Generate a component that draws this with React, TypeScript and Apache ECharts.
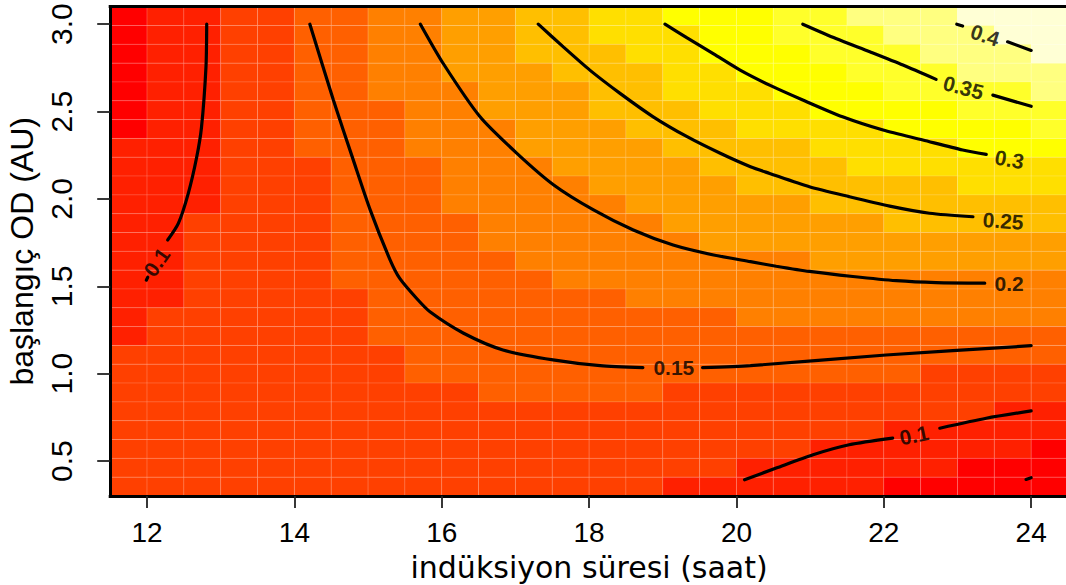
import React, { useEffect, useRef } from "react";
import * as echarts from "echarts";

// Cell centres of the image grid (x: induction time, y: starting OD)
const xCenters = [
  11.75, 12.25, 12.75, 13.25, 13.75, 14.25, 14.75, 15.25, 15.75, 16.25, 16.75, 17.25, 17.75,
  18.25, 18.75, 19.25, 19.75, 20.25, 20.75, 21.25, 21.75, 22.25, 22.75, 23.25, 23.75, 24.25,
];
// top row first
const yCenters = [
  3.0462, 2.9385, 2.8308, 2.7231, 2.6154, 2.5077, 2.4, 2.2923, 2.1846, 2.0769, 1.9692, 1.8615, 1.7538,
  1.6462, 1.5385, 1.4308, 1.3231, 1.2154, 1.1077, 1.0, 0.8923, 0.7846, 0.6769, 0.5692, 0.4615, 0.3538,
];
// colour class of each cell (heat.colors(12) index, hex digit), top row first
const levelRows = [
  "01122334455667788899aaabbb",
  "011223344556677788999aaabb",
  "0112233445566677888999aaab",
  "01122334455566677888999aaa",
  "0112233444555667778889999a",
  "01122333445556667778888999",
  "01122333444555666777788889",
  "11122333444555566667777888",
  "11122233344455556666777777",
  "11122233344445555666666777",
  "11122233344444555556666666",
  "11222233334444455555566666",
  "11222233334444445555555555",
  "11222233333444444445555555",
  "11222233333344444444444444",
  "11222223333333444444444444",
  "12222223333333333444444444",
  "12222223333333333333333333",
  "22222222333333333333333333",
  "22222222333333333333332222",
  "22222222223333322222222222",
  "22222222222222222222222211",
  "22222222222222222222211111",
  "22222222222222222221111110",
  "22222222222222222111111000",
  "22222222222222211111100000",
];
const heatColors = [
  "#FF0000", "#FF2000", "#FF4000", "#FF6000", "#FF8000", "#FF9F00",
  "#FFBF00", "#FFDF00", "#FFFF00", "#FFFF2A", "#FFFF80", "#FFFFD5",
];

// contour lines (segments broken where the labels sit)
const contour010Left = [
  [[12.81, 3.0], [12.8, 2.756], [12.74, 2.413], [12.675, 2.241], [12.56, 2.032], [12.425, 1.86], [12.28, 1.765]],
  [[12.01, 1.552], [11.99, 1.535]],
];
const contour015 = [
  [[14.21, 3.0], [14.53, 2.565], [14.8, 2.222], [15.03, 1.936], [15.3, 1.65], [15.43, 1.545], [15.66, 1.43],
   [15.84, 1.354], [16.29, 1.233], [16.83, 1.136], [17.51, 1.079], [18.15, 1.046], [18.73, 1.035]],
  [[19.54, 1.035], [20.19, 1.046], [22.03, 1.107], [24.0, 1.16]],
];
const contour020 = [
  [[15.71, 3.0], [16.02, 2.775], [16.52, 2.47], [17.02, 2.261], [17.52, 2.08], [18.06, 1.937], [18.6, 1.822],
   [19.14, 1.736], [19.69, 1.679], [20.19, 1.641], [20.54, 1.615], [20.99, 1.585], [21.58, 1.556],
   [22.17, 1.532], [22.71, 1.521], [23.37, 1.518]],
];
const contour025 = [
  [[17.31, 3.0], [17.65, 2.87], [18.01, 2.737], [18.42, 2.604], [18.87, 2.47], [19.33, 2.356], [19.78, 2.261],
   [20.19, 2.184], [20.45, 2.146], [20.99, 2.07], [21.53, 2.013], [22.08, 1.959], [22.62, 1.918], [23.21, 1.898]],
];
const contour030 = [
  [[19.03, 3.0], [19.33, 2.922], [19.69, 2.83], [20.05, 2.737], [20.45, 2.651], [20.9, 2.566], [21.44, 2.47],
   [21.99, 2.394], [22.53, 2.337], [23.07, 2.28], [23.39, 2.255]],
];
const contour035 = [
  [[20.9, 3.0], [21.35, 2.918], [21.81, 2.842], [22.26, 2.766], [22.71, 2.684]],
  [[23.48, 2.594], [24.0, 2.53]],
];
const contour040 = [
  [[22.99, 3.0], [23.07, 2.989]],
  [[23.68, 2.899], [24.0, 2.85]],
];
const contour010Right = [
  [[20.11, 0.393], [20.54, 0.46], [21.04, 0.536], [21.53, 0.593], [22.12, 0.631]],
  [[22.76, 0.688], [23.39, 0.745], [24.0, 0.787]],
  [[23.93, 0.395], [24.0, 0.405]],
];
const contourLabelTexts = ["0.1", "0.15", "0.2", "0.25", "0.3", "0.35", "0.4", "0.1"];
const contourLabelX = [12.13, 19.15, 23.7, 23.62, 23.705, 23.08, 23.375, 22.41];
const contourLabelY = [1.638, 1.037, 1.516, 1.874, 2.226, 2.637, 2.937, 0.648];
const contourLabelAngles = [55, 0, 0, -4, -10, -15, -18, 12];

const xTicks = [12, 14, 16, 18, 20, 22, 24];
const yTicks = [0.5, 1.0, 1.5, 2.0, 2.5, 3.0];
const xTitle = "indüksiyon süresi (saat)";
const yTitle = "başlangıç OD (AU)";

const FONT = "'Liberation Sans', Arial, Helvetica, sans-serif";

export default function App() {
  const ref = useRef<HTMLDivElement>(null);
  useEffect(() => {
    if (!ref.current) return;
    const chart = echarts.init(ref.current, undefined, { renderer: "svg" });

    const cells: number[][] = [];
    levelRows.forEach((row, r) => {
      for (let c = 0; c < row.length; c++) {
        cells.push([xCenters[c], yCenters[r], parseInt(row[c], 16)]);
      }
    });
    const halfW = (xCenters[1] - xCenters[0]) / 2;
    const halfH = (yCenters[0] - yCenters[1]) / 2;

    const allContours = [
      contour010Left, contour015, contour020, contour025, contour030, contour035, contour040, contour010Right,
    ];
    const lineSeries: any[] = [];
    allContours.forEach((segs) =>
      segs.forEach((seg) =>
        lineSeries.push({
          type: "line",
          data: seg,
          symbol: "none",
          smooth: 0.25,
          silent: true,
          z: 3,
          lineStyle: { color: "#000", width: 3.2, cap: "round" },
        })
      )
    );

    const axisLineStyle = { color: "#000", width: 3, cap: "square" };

    chart.setOption({
      animation: false,
      backgroundColor: "#fff",
      grid: {
        left: 110.2,
        top: 6.7,
        width: 957.8,
        height: 489.3,
        containLabel: false,
        outerBoundsMode: "none",
      },
      xAxis: [
        {
          type: "value",
          min: 11.5,
          max: 24.5,
          z: 6,
          name: xTitle,
          nameLocation: "middle",
          nameGap: 56,
          nameMoveOverlap: false,
          nameTextStyle: { fontSize: 30, fontFamily: "'DejaVu Sans', sans-serif", color: "#000" },
          axisLine: { show: true, onZero: false, lineStyle: axisLineStyle },
          axisTick: {
            show: true,
            customValues: xTicks,
            length: 12,
            lineStyle: { color: "#222", width: 1.8 },
          },
          axisLabel: {
            customValues: xTicks,
            fontSize: 28,
            lineHeight: 22,
            fontFamily: FONT,
            color: "#000",
            margin: 25,
            formatter: (v: number) => String(v),
          },
          splitLine: { show: false },
        },
        {
          type: "value",
          position: "top",
          min: 11.5,
          max: 24.5,
          z: 6,
          axisLine: { show: true, onZero: false, lineStyle: axisLineStyle },
          axisTick: { show: false },
          axisLabel: { show: false },
          splitLine: { show: false },
        },
      ],
      yAxis: {
        type: "value",
        min: 0.3,
        max: 3.1,
        z: 6,
        name: yTitle,
        nameLocation: "middle",
        nameGap: 72,
        nameMoveOverlap: false,
        nameTextStyle: { fontSize: 32, fontFamily: FONT, color: "#000" },
        axisLine: { show: true, onZero: false, lineStyle: axisLineStyle },
        axisTick: {
          show: true,
          customValues: yTicks,
          length: 13,
          lineStyle: { color: "#222", width: 1.8 },
        },
        axisLabel: {
          customValues: yTicks,
          rotate: 90,
          fontSize: 30,
          fontFamily: FONT,
          color: "#000",
          margin: 34,
          formatter: (v: number) => v.toFixed(1),
        },
        splitLine: { show: false },
      },
      series: [
        {
          type: "custom",
          z: 1,
          silent: true,
          data: cells,
          renderItem: (_p: any, api: any) => {
            const x = api.value(0);
            const y = api.value(1);
            const lvl = api.value(2);
            const a = api.coord([x - halfW, y + halfH]);
            const b = api.coord([x + halfW, y - halfH]);
            return {
              type: "rect",
              shape: { x: a[0], y: a[1], width: b[0] - a[0], height: b[1] - a[1] },
              style: { fill: heatColors[lvl], stroke: "rgba(255,255,255,0.13)", lineWidth: 1 },
            };
          },
        },
        ...lineSeries,
        {
          type: "scatter",
          z: 4,
          silent: true,
          symbol: "circle",
          symbolSize: 1,
          itemStyle: { color: "rgba(0,0,0,0)" },
          data: contourLabelTexts.map((_t, i) => ({
            value: [contourLabelX[i], contourLabelY[i]],
            label: { rotate: contourLabelAngles[i] },
          })),
          label: {
            show: true,
            position: "inside",
            formatter: (p: any) => contourLabelTexts[p.dataIndex],
            fontSize: 21,
            fontWeight: "bold",
            fontFamily: FONT,
            color: "#000",
          },
        },
      ],
    });
    return () => chart.dispose();
  }, []);

  return (
    <div
      ref={ref}
      style={{ position: "fixed", left: 0, top: 0, width: 1066, height: 585, background: "#fff" }}
    />
  );
}
